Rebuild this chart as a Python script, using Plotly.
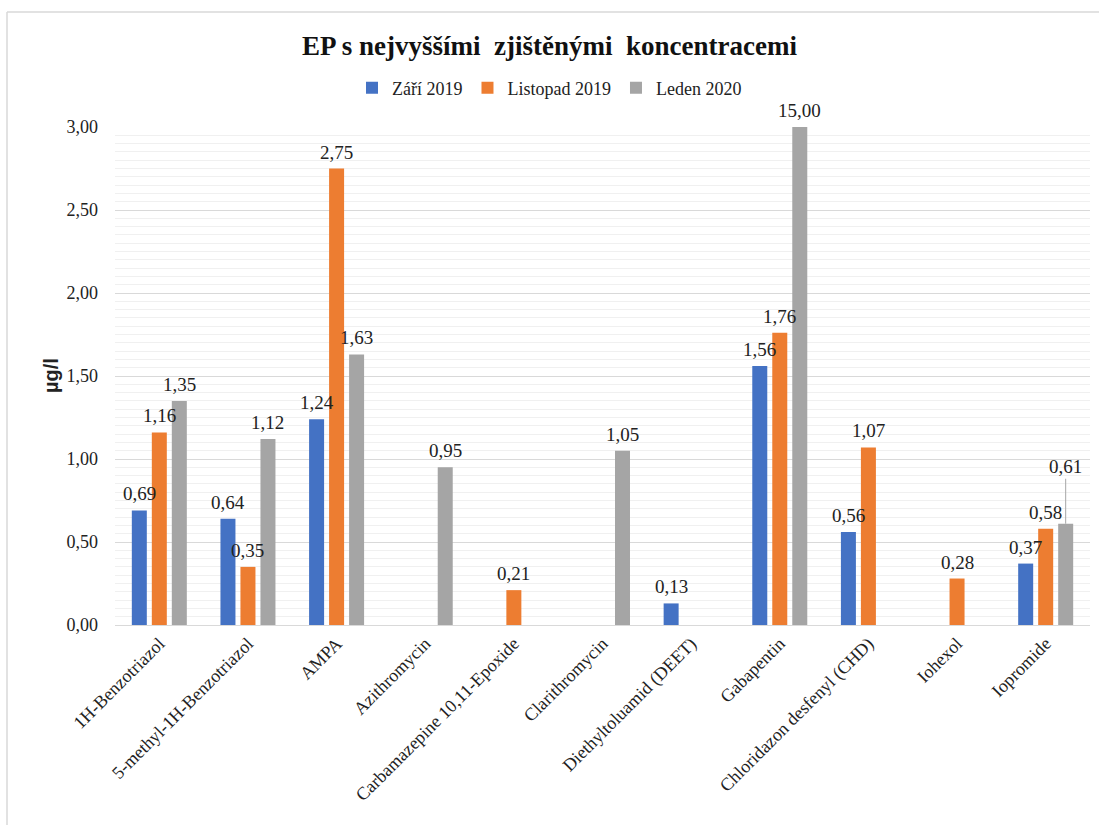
import plotly.graph_objects as go

# Compounds and measured concentrations (µg/l) per sampling campaign
categories = [
    "1H-Benzotriazol",
    "5-methyl-1H-Benzotriazol",
    "AMPA",
    "Azithromycin",
    "Carbamazepine 10,11-Epoxide",
    "Clarithromycin",
    "Diethyltoluamid (DEET)",
    "Gabapentin",
    "Chloridazon desfenyl (CHD)",
    "Iohexol",
    "Iopromide",
]
series_names = ["Září 2019", "Listopad 2019", "Leden 2020"]
zari_2019 = [0.69, 0.64, 1.24, None, None, None, 0.13, 1.56, 0.56, None, 0.37]
listopad_2019 = [1.16, 0.35, 2.75, None, 0.21, None, None, 1.76, 1.07, 0.28, 0.58]
leden_2020 = [1.35, 1.12, 1.63, 0.95, None, 1.05, None, 15.00, None, None, 0.61]
y_ticks = [0.0, 0.5, 1.0, 1.5, 2.0, 2.5, 3.0]

colors = ["#4472C4", "#ED7D31", "#A5A5A5"]
serif = "Liberation Serif"
Y_MAX = 3.0

W, H = 1099, 825
M_L, M_R, M_T, M_B = 115, 9, 127, 200
BARGAP, BARGROUPGAP = 0.323, 0.25

fig = go.Figure()
all_series = [zari_2019, listopad_2019, leden_2020]
for name, vals, col in zip(series_names, all_series, colors):
    fig.add_trace(go.Bar(
        name=name, x=categories, y=vals, marker_color=col,
        marker_line_width=0,
    ))

# horizontal offset of each series inside a category group (pixels)
plot_w = W - M_L - M_R
plot_h = H - M_T - M_B
cat_w = plot_w / len(categories)
slot = cat_w * (1 - BARGAP) / len(all_series)
offsets = [(i - (len(all_series) - 1) / 2) * slot for i in range(len(all_series))]

def fmt(v):
    return f"{v:.2f}".replace(".", ",")

annotations = []
for s_idx, vals in enumerate(all_series):
    for cat, v in zip(categories, vals):
        if v is None:
            continue
        label = dict(
            x=cat, y=min(v, Y_MAX), xref="x", yref="y", text=fmt(v),
            xshift=offsets[s_idx], font=dict(family=serif, size=19, color="#222"),
            showarrow=False, yanchor="bottom", yshift=4,
        )
        if cat == "Iopromide" and s_idx == 2:
            # label lifted above its neighbour with a leader line
            label.update(showarrow=True, arrowhead=0, arrowwidth=1,
                         arrowcolor="#a6a6a6", ax=0, ay=-57, yshift=0,
                         yanchor="middle")
        annotations.append(label)

annotations.append(dict(
    x=(51 - M_L) / plot_w, y=0.5, xref="paper", yref="paper", text="<b>µg/l</b>",
    textangle=-90, showarrow=False, font=dict(family="Liberation Sans", size=20, color="#222"),
    xanchor="center", yanchor="middle",
))

fig.update_layout(
    width=W, height=H,
    margin=dict(l=M_L, r=M_R, t=M_T, b=M_B),
    paper_bgcolor="white", plot_bgcolor="white",
    barmode="group", bargap=BARGAP, bargroupgap=BARGROUPGAP,
    separators=", ",
    title=dict(
        text="<b>EP s nejvyššími  zjištěnými  koncentracemi</b>",
        x=0.5, xanchor="center", y=1 - 46 / H, yanchor="middle",
        font=dict(family=serif, size=27, color="#111"),
    ),
    legend=dict(
        orientation="h", x=(W / 2 - M_L) / plot_w, xanchor="center",
        y=1 + (M_T - 88) / plot_h,
        yanchor="middle", font=dict(family=serif, size=18, color="#222"),
        itemwidth=30, traceorder="normal",
    ),
    xaxis=dict(
        tickangle=-45, tickfont=dict(family=serif, size=18, color="#222"),
        showgrid=False, showline=True, linecolor="#d9d9d9", linewidth=1,
        ticks="",
    ),
    yaxis=dict(
        range=[0, Y_MAX], tickvals=y_ticks, tickformat=".2f",
        tickfont=dict(family=serif, size=18, color="#222"),
        showgrid=True, gridcolor="#d9d9d9", gridwidth=1,
        minor=dict(dtick=0.05, showgrid=True, gridcolor="#f0f0f0", gridwidth=1),
        zeroline=False, ticks="", ticklabelstandoff=16,
    ),
    annotations=annotations,
    shapes=[
        dict(type="line", xref="paper", yref="paper",
             x0=(7 - M_L) / plot_w, x1=(W - M_L) / plot_w,
             y0=1 + (M_T - 12) / plot_h, y1=1 + (M_T - 12) / plot_h,
             line=dict(color="#d9d9d9", width=1.5)),
        dict(type="line", xref="paper", yref="paper",
             x0=(7 - M_L) / plot_w, x1=(7 - M_L) / plot_w,
             y0=-M_B / plot_h, y1=1 + (M_T - 12) / plot_h,
             line=dict(color="#d9d9d9", width=1.5)),
    ],
)

fig.write_html("out.html")
